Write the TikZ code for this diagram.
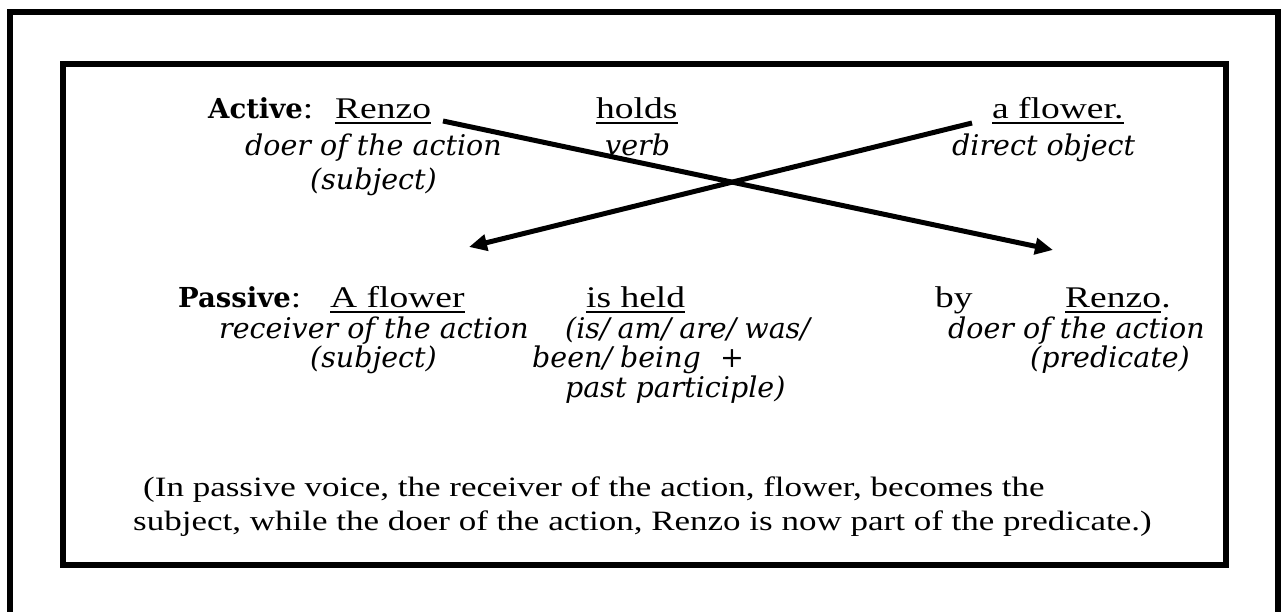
\documentclass[tikz,border=0pt]{standalone}
\usepackage{fontspec}
\usetikzlibrary{arrows.meta}
\setmainfont{Liberation Serif}
\newfontfamily\romfont{Liberation Serif}[FakeStretch=1.25]
\newfontfamily\dvsfont{DejaVu Serif}
\newcommand\rmtext{\romfont\fontsize{30}{36}\selectfont}
\newcommand\ittext{\dvsfont\itshape\fontsize{28.5}{34}\selectfont}
\newcommand\bftext{\dvsfont\bfseries\fontsize{27.5}{32}\selectfont}
\newcommand\notetext{\romfont\fontsize{28}{34}\selectfont}
\newcommand\slgap{\hspace{8pt}}
\begin{document}
\begin{tikzpicture}[x=1pt,y=-1pt,
  word/.style={inner sep=0pt,anchor=base west,font=\rmtext},
  gloss/.style={inner sep=0pt,anchor=base west,font=\ittext},
  note/.style={inner sep=0pt,anchor=base west,font=\notetext},
  uline/.style={line width=2.4pt},
  frame/.style={line width=6pt},
  swaparrow/.style={line width=5pt,-{Triangle[length=18pt,width=16pt]}}]
\useasboundingbox (0,0) rectangle (1282,612);
% frames
\draw[line width=5.5pt] (10,612) -- (10,12) -- (1278,12) -- (1278,612);
\draw[frame] (63,64) rectangle (1226,565);
% active sentence
\node[word] (act) at (208,119) {{\bftext Active}:};
\node[word] (renzo1) at (335,119) {Renzo};
\node[word] (holds) at (596,119) {holds};
\node[word] (flower1) at (992,119) {a flower.};
\node[gloss] (doer1) at (245,156) {doer of the action};
\node[gloss] (verb) at (605,156) {verb};
\node[gloss] (dobj) at (952,156) {direct object};
\node[gloss] (subj1) at (310,190) {(subject)};
% passive sentence
\node[word] (pas) at (178,308) {{\bftext Passive}:};
\node[word] (flower2) at (330,308) {A flower};
\node[word] (held) at (586,308) {is held};
\node[word] (by) at (935,308) {by};
\node[word] (renzo2) at (1065,308) {Renzo};
\node[word,anchor=base west] (dot) at (renzo2.base east) {.};
\node[gloss] (recv) at (219,338) {receiver of the action};
\node[gloss] (aux1) at (565,338) {(is/\slgap am/\slgap are/\slgap was/};
\node[gloss] (doer2) at (948,338) {doer of the action};
\node[gloss] (subj2) at (310,367) {(subject)};
\node[gloss] (aux2) at (532,367) {been/\slgap being\hspace{10pt} +};
\node[gloss] (pred) at (1030,367) {(predicate)};
\node[gloss] (aux3) at (565,397) {past participle)};
% note
\node[note] (n1) at (143,496) {(In passive voice, the receiver of the action, flower, becomes the};
\node[note] (n2) at (133,530) {subject, while the doer of the action, Renzo is now part of the predicate.)};
% underlines
\foreach \w in {renzo1,holds,flower1,flower2,held,renzo2}
  \draw[uline] ([yshift=-4pt]\w.base west) -- ([yshift=-4pt]\w.base east);
% arrows
\coordinate (s1) at (443,121);
\coordinate (t1) at (1053,250);
\coordinate (s2) at (972,123);
\coordinate (t2) at (469,247);
\draw[swaparrow] (s1) -- (t1);
\draw[swaparrow] (s2) -- (t2);
\end{tikzpicture}
\end{document}
